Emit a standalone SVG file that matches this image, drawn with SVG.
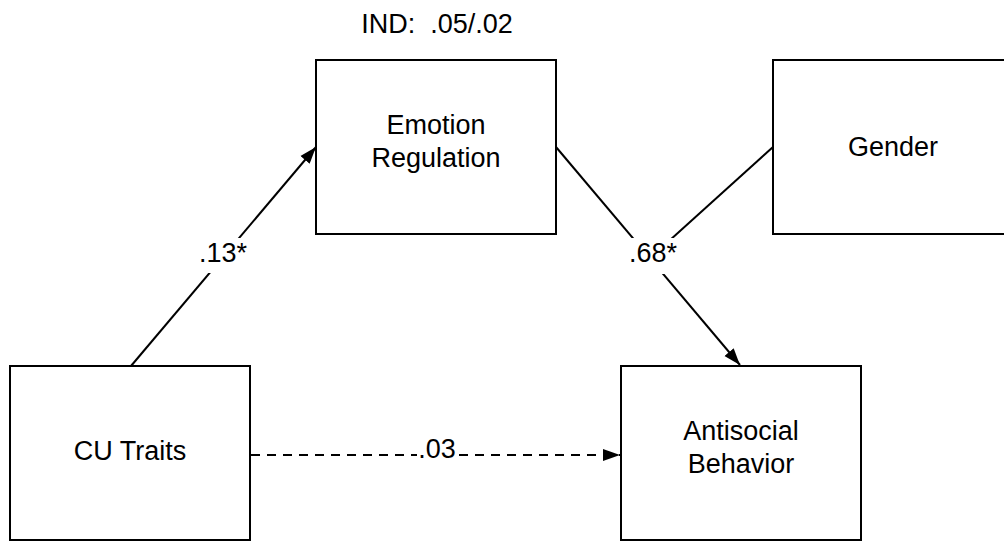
<svg xmlns="http://www.w3.org/2000/svg" width="1004" height="544" viewBox="0 0 1004 544">
<style>
.box{fill:#fff;stroke:#000;stroke-width:2}
.t{font-family:"Liberation Sans",Arial,sans-serif;font-size:27px;fill:#000;text-anchor:middle}
.ln{stroke:#000;stroke-width:2;fill:none}
.dash{stroke-dasharray:9 7}
.bg{fill:#fff}
</style>
<defs>
<marker id="arr" markerUnits="userSpaceOnUse" markerWidth="18" markerHeight="14" refX="17" refY="7" orient="auto">
<path d="M0,1 L17,7 L0,13 z" fill="#000"/>
</marker>
</defs>
<rect width="1004" height="544" fill="#fff"/>
<g id="connectors">
<line class="ln" x1="131" y1="366" x2="316" y2="147" marker-end="url(#arr)"/>
<line class="ln" x1="556" y1="147" x2="740" y2="365" marker-end="url(#arr)"/>
<line class="ln" x1="773" y1="147" x2="659" y2="250"/>
<line class="ln dash" x1="251" y1="455" x2="620" y2="455" marker-end="url(#arr)"/>
<rect class="bg" x="199" y="238" width="48" height="35"/>
<text class="t" x="223" y="262">.13*</text>
<rect class="bg" x="626" y="238" width="54" height="36"/>
<text class="t" x="653" y="262">.68*</text>
<rect class="bg" x="417" y="440" width="41" height="30"/>
<text class="t" x="437" y="458">.03</text>
</g>
<g id="ind-label">
<text class="t" x="437" y="33" xml:space="preserve">IND:  .05/.02</text>
</g>
<g id="emotion-regulation">
<rect class="box" x="316" y="60" width="240" height="174"/>
<text class="t" x="436" y="134">Emotion</text>
<text class="t" x="436" y="167">Regulation</text>
</g>
<g id="gender">
<rect class="box" x="773" y="60" width="240" height="174"/>
<text class="t" x="893" y="156">Gender</text>
</g>
<g id="cu-traits">
<rect class="box" x="10" y="366" width="240" height="174"/>
<text class="t" x="130" y="460">CU Traits</text>
</g>
<g id="antisocial-behavior">
<rect class="box" x="621" y="366" width="240" height="174"/>
<text class="t" x="741" y="440">Antisocial</text>
<text class="t" x="741" y="473">Behavior</text>
</g>
</svg>
